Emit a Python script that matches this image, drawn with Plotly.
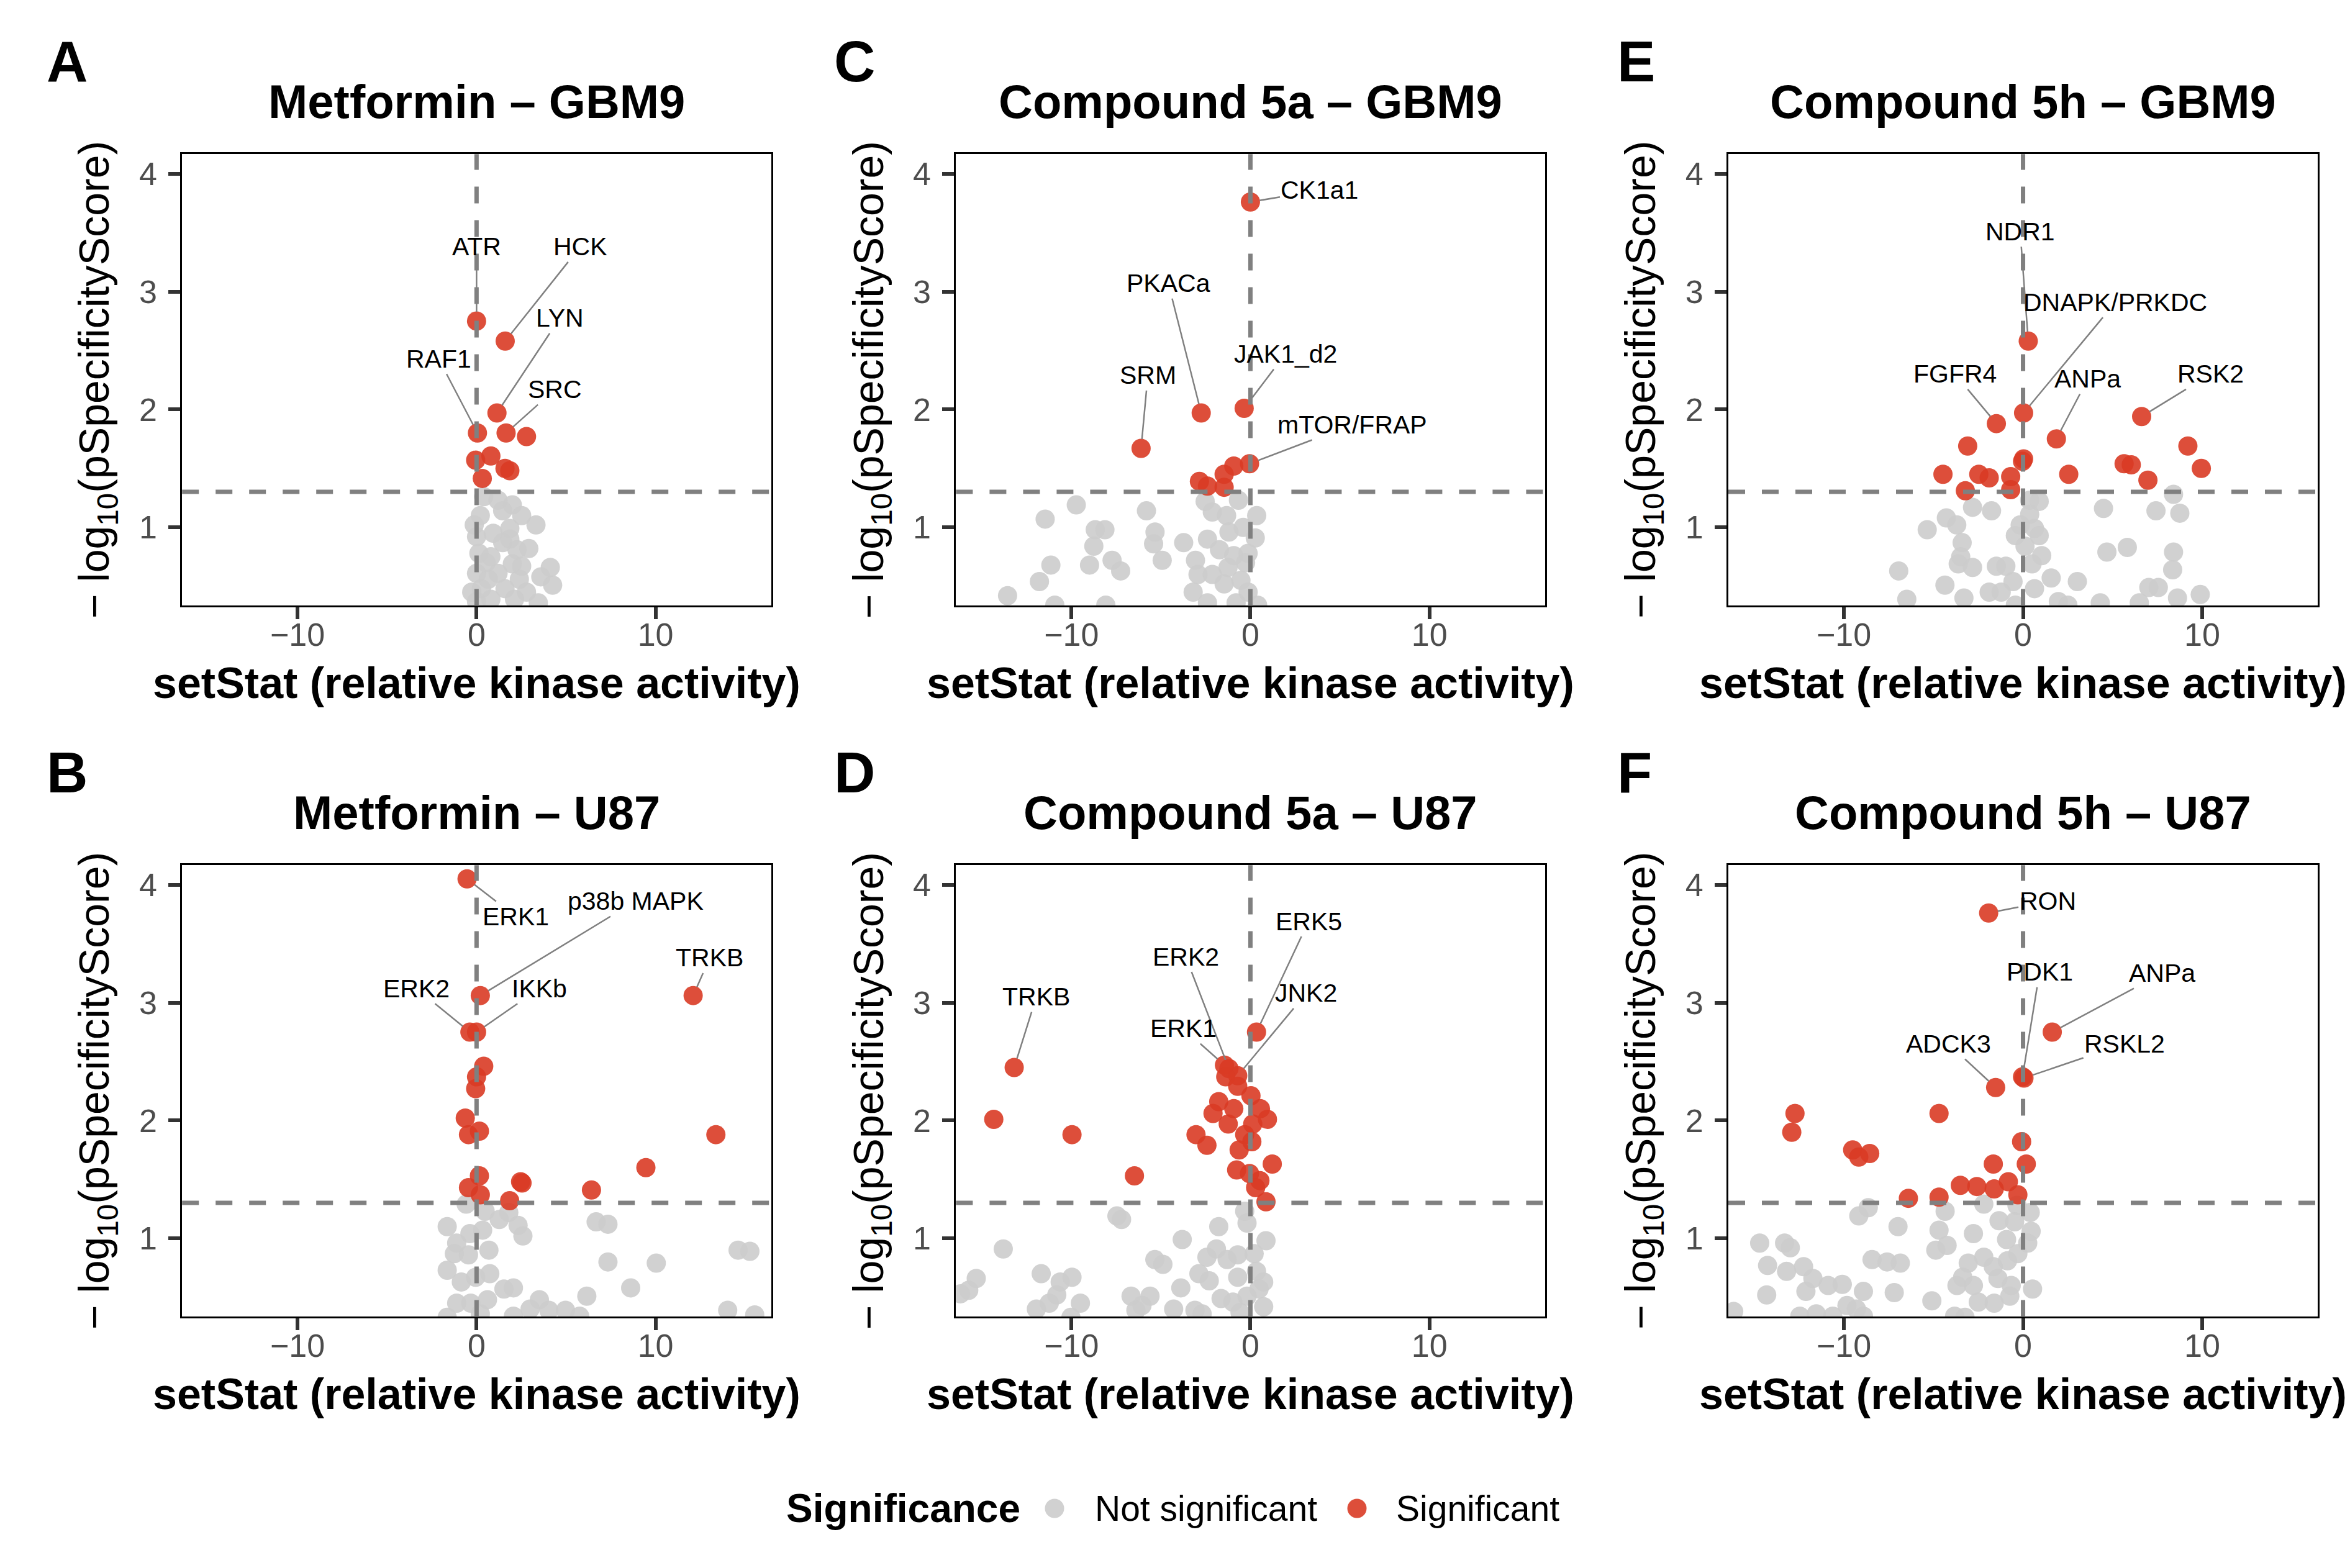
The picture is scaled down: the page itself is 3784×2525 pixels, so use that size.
import plotly.graph_objects as go

# ---- data (setStat, -log10 pSpecificityScore) ----
panel_titles = ["Metformin – GBM9", "Compound 5a – GBM9", "Compound 5h – GBM9",
                "Metformin – U87", "Compound 5a – U87", "Compound 5h – U87"]
panel_letters = ["A", "C", "E", "B", "D", "F"]

# A: Metformin - GBM9
a_kinases = ["ATR", "HCK", "LYN", "SRC", "RAF1"]
a_kin_x = [0.0, 1.6, 1.14, 1.65, 0.05]
a_kin_y = [2.75, 2.58, 1.97, 1.80, 1.80]
a_sig_x = [2.79, 0.8, -0.05, 1.59, 1.86, 0.32]
a_sig_y = [1.77, 1.605, 1.57, 1.50, 1.48, 1.415]
a_ns_x = [0.4, 1.2, 2.0, 1.46, 2.52, 0.21, 3.32, -0.13, 0.93, 1.86, 0.0, 1.46, 2.92, 2.26,
          0.13, 0.8, 2.0, 4.12, 2.52, 0.0, 1.2, 3.59, 4.25, 0.27, 1.59, 2.79, 0.0, 0.8,
          2.12, 3.45, -0.27, 0.66, 2.39, 1.86, 0.53]
a_ns_y = [1.26, 1.23, 1.19, 1.14, 1.10, 1.10, 1.02, 1.02, 0.95, 0.99, 0.92, 0.87, 0.82, 0.81,
          0.78, 0.75, 0.69, 0.66, 0.67, 0.61, 0.61, 0.58, 0.51, 0.48, 0.48, 0.45, 0.37, 0.39,
          0.39, 0.36, 0.45, 0.56, 0.56, 0.90, 0.70]

# C: Compound 5a - GBM9
c_kinases = ["CK1a1", "PKACa", "JAK1_d2", "SRM", "mTOR/FRAP"]
c_kin_x = [0.0, -2.75, -0.35, -6.11, -0.05]
c_kin_y = [3.76, 1.97, 2.01, 1.67, 1.54]
c_sig_x = [-0.93, -1.47, -2.85, -2.4, -1.47]
c_sig_y = [1.52, 1.45, 1.39, 1.35, 1.34]
c_ns_x = [-9.73, -11.47, -8.67, -8.13, -8.75, -5.81, -5.33, -5.41, -7.73, -7.25, -4.93, -11.15,
          -8.99, -11.79, -13.57, -10.93, -8.08, -3.73, -2.53, -2.13, -1.33, -0.67, 0.35, -2.4,
          -1.2, -0.4, 0.27, -3.07, -2.93, -3.2, -1.73, -0.93, -0.13, -2.13, -1.47, -0.53,
          -0.13, -2.4, -0.8, -0.27, 0.4, -1.25]
c_ns_y = [1.19, 1.07, 0.98, 0.98, 0.84, 1.14, 0.96, 0.86, 0.72, 0.63, 0.72, 0.68,
          0.68, 0.54, 0.42, 0.34, 0.34, 0.87, 1.22, 1.13, 1.10, 1.23, 1.10, 0.90,
          0.96, 1.00, 0.91, 0.72, 0.60, 0.45, 0.81, 0.76, 0.78, 0.60, 0.52, 0.55,
          0.45, 0.36, 0.36, 0.70, 0.34, 0.66]

# E: Compound 5h - GBM9
e_kinases = ["NDR1", "DNAPK/PRKDC", "FGFR4", "ANPa", "RSK2"]
e_kin_x = [0.29, 0.03, -1.49, 1.86, 6.62]
e_kin_y = [2.58, 1.97, 1.88, 1.75, 1.94]
e_sig_x = [-3.09, 0.03, -0.03, -4.47, -2.47, -1.89, -0.69, -3.22, -0.69, 2.55, 5.64, 6.04,
           6.97, 9.2, 9.95]
e_sig_y = [1.69, 1.58, 1.56, 1.45, 1.45, 1.42, 1.43, 1.31, 1.32, 1.45, 1.54, 1.53,
           1.40, 1.69, 1.50]
e_ns_x = [-2.82, -1.76, -4.28, -3.7, -5.35, -3.4, -3.48, -3.62, -2.82, -6.94, -4.36, -6.49,
          -3.3, -1.49, -0.96, -1.89, -1.22, -0.56, 0.37, 0.9, 0.37, -0.16, 0.64, 0.9, -0.43,
          0.11, 1.04, 0.5, 1.57, 0.64, 1.97, 3.03, 2.5, 4.49, 4.68, 5.82, 7.42, 8.4, 8.75,
          8.4, 8.35, 7.02, 7.55, 8.62, 9.89, 6.49, 4.31, -0.43]
e_ns_y = [1.17, 1.14, 1.08, 1.02, 0.98, 0.87, 0.75, 0.69, 0.66, 0.63, 0.51, 0.39,
          0.40, 0.67, 0.67, 0.45, 0.45, 0.54, 1.23, 1.22, 1.11, 1.02, 0.99, 0.93, 0.93,
          0.84, 0.76, 0.69, 0.57, 0.48, 0.37, 0.54, 0.34, 1.16, 0.79, 0.83, 1.14, 1.28, 1.12,
          0.79, 0.64, 0.49, 0.49, 0.40, 0.43, 0.36, 0.36, 0.34]

# B: Metformin - U87
b_kinases = ["ERK1", "p38b MAPK", "ERK2", "IKKb", "TRKB"]
b_kin_x = [-0.53, 0.21, -0.37, 0.0, 12.1]
b_kin_y = [4.05, 3.06, 2.75, 2.75, 3.06]
b_sig_x = [0.4, 0.0, -0.05, -0.63, -0.45, 0.16, 13.37, 9.46, 0.16, -0.45, 0.21, 2.46,
           2.54, 6.42, 1.85]
b_sig_y = [2.46, 2.37, 2.27, 2.02, 1.88, 1.91, 1.88, 1.60, 1.53, 1.43, 1.37, 1.48,
           1.47, 1.41, 1.32]
b_ns_x = [-0.58, 0.48, 1.27, 1.8, 2.32, 2.59, -1.64, -0.37, 0.34, -1.11, -1.24, 0.69, -0.45,
          -1.64, 0.74, -0.85, -0.05, 1.53, 2.06, -1.11, -0.32, 0.61, 0.21, 3.51, 2.99, 4.04,
          4.97, 2.06, -1.64, 6.68, 7.34, 7.34, 10.04, 8.61, 6.16, 14.61, 15.27, 14.03, 15.54,
          5.76]
b_ns_y = [1.29, 1.23, 1.16, 1.22, 1.11, 1.02, 1.10, 1.04, 1.07, 0.96, 0.87, 0.90, 0.86,
          0.73, 0.70, 0.63, 0.67, 0.57, 0.58, 0.45, 0.45, 0.48, 0.36, 0.48, 0.40, 0.39,
          0.39, 0.34, 0.33, 1.14, 1.12, 0.80, 0.79, 0.58, 0.51, 0.90, 0.89, 0.39, 0.35,
          0.34]

# D: Compound 5a - U87
d_kinases = ["TRKB", "ERK2", "ERK5", "JNK2", "ERK1"]
d_kin_x = [-13.2, -1.2, 0.34, -0.71, -1.45]
d_kin_y = [2.45, 2.44, 2.75, 2.38, 2.47]
d_sig_x = [-14.34, -9.97, -6.48, -3.04, -2.43, -1.77, -2.09, -0.93, -1.24, -1.38, -0.71,
           0.03, 0.56, 0.95, 0.13, -0.32, 0.08, -0.63, -0.77, -0.05, 0.53, 0.29, 1.22, 0.87]
d_sig_y = [2.01, 1.88, 1.53, 1.88, 1.79, 2.16, 2.06, 2.10, 1.97, 2.37, 2.29,
           2.21, 2.10, 2.01, 1.97, 1.88, 1.82, 1.75, 1.58, 1.55, 1.49, 1.43, 1.63, 1.31]
d_ns_x = [-7.46, -7.2, -1.77, -0.32, -0.19, -3.81, 0.87, -13.81, -5.34, -4.89, -1.9, -2.43,
          -1.3, -0.71, 0.21, -15.32, -15.74, -16.2, -11.69, -9.97, -10.63, -10.82, -9.5,
          -11.24, -11.96, -10.03, -6.67, -5.61, -6.06, -6.4, -3.89, -4.29, -2.88, -2.3, -1.64,
          -0.71, 0.34, 0.74, 0.48, -0.98, -0.19, 0.74, -2.7, -3.1, -0.58]
d_ns_y = [1.19, 1.16, 1.10, 1.23, 1.13, 0.99, 0.98, 0.91, 0.82, 0.78, 0.91, 0.84,
          0.82, 0.86, 0.87, 0.66, 0.56, 0.53, 0.70, 0.67, 0.63, 0.52, 0.45,
          0.45, 0.40, 0.33, 0.51, 0.51, 0.43, 0.39, 0.58, 0.40, 0.70, 0.64, 0.49,
          0.67, 0.72, 0.63, 0.57, 0.46, 0.51, 0.42, 0.36, 0.39, 0.37]

# F: Compound 5h - U87
f_kinases = ["RON", "PDK1", "ANPa", "RSKL2", "ADCK3"]
f_kin_x = [-1.92, -0.03, 1.63, 0.05, -1.53]
f_kin_y = [3.76, 2.37, 2.75, 2.36, 2.28]
f_sig_x = [-12.73, -12.91, -4.69, -9.51, -9.17, -8.56, -0.08, 0.18, -1.66, -3.5, -2.58,
           -1.61, -0.82, -0.29, -6.4, -4.69]
f_sig_y = [2.06, 1.90, 2.06, 1.75, 1.69, 1.72, 1.82, 1.63, 1.63, 1.45, 1.44,
           1.42, 1.48, 1.37, 1.34, 1.35]
f_ns_x = [-8.64, -9.17, -6.98, -4.35, -2.19, -0.34, 0.4, -1.34, -0.47, -4.69, -2.77, 0.45,
          -0.92, 0.26, -14.7, -13.31, -12.99, -4.87, -4.24, -14.26, -13.2, -12.25, -11.73,
          -8.43, -7.59, -6.85, -3.06, -2.19, -1.66, -0.87, -0.29, -10.88, -10.09, -12.12,
          -14.31, -8.91, -7.19, -3.69, -2.77, -3.37, -1.4, -0.66, 0.53, -9.83, -9.3, -5.09,
          -2.5, -1.61, -0.74, -16.15, -12.46, -11.54, -10.62, -8.91, -3.82, -3.24]
f_ns_y = [1.26, 1.19, 1.10, 1.23, 1.29, 1.28, 1.22, 1.15, 1.14, 1.07, 1.04, 1.06,
          0.99, 0.96, 0.96, 0.96, 0.92, 0.90, 0.94, 0.77, 0.72, 0.76, 0.66,
          0.82, 0.80, 0.79, 0.79, 0.84, 0.76, 0.81, 0.87, 0.60, 0.61, 0.55,
          0.52, 0.55, 0.54, 0.60, 0.60, 0.67, 0.66, 0.60, 0.57, 0.43, 0.40, 0.47,
          0.46, 0.45, 0.51, 0.38, 0.34, 0.36, 0.34, 0.34, 0.34, 0.33]

# where each kinase label sits (data units), in panel order A C E B D F
label_xy = [
    [(0.0, 3.38), (5.79, 3.38), (4.65, 2.775), (4.38, 2.17), (-2.12, 2.43)],
    [(3.87, 3.86), (-4.59, 3.07), (1.95, 2.47), (-5.73, 2.29), (5.68, 1.87)],
    [(-0.16, 3.51), (5.16, 2.91), (-3.8, 2.30), (3.62, 2.26), (10.48, 2.30)],
    [(2.19, 3.73), (8.88, 3.86), (-3.36, 3.12), (3.51, 3.12), (13.03, 3.38)],
    [(-11.96, 3.05), (-3.62, 3.39), (3.25, 3.69), (3.12, 3.08), (-3.76, 2.78)],
    [(1.37, 3.86), (0.92, 3.26), (7.77, 3.25), (5.67, 2.65), (-4.16, 2.65)],
]

panels = [
    (a_kinases, a_kin_x, a_kin_y, a_sig_x, a_sig_y, a_ns_x, a_ns_y),
    (c_kinases, c_kin_x, c_kin_y, c_sig_x, c_sig_y, c_ns_x, c_ns_y),
    (e_kinases, e_kin_x, e_kin_y, e_sig_x, e_sig_y, e_ns_x, e_ns_y),
    (b_kinases, b_kin_x, b_kin_y, b_sig_x, b_sig_y, b_ns_x, b_ns_y),
    (d_kinases, d_kin_x, d_kin_y, d_sig_x, d_sig_y, d_ns_x, d_ns_y),
    (f_kinases, f_kin_x, f_kin_y, f_sig_x, f_sig_y, f_ns_x, f_ns_y),
]

# ---- layout geometry (pixels of the 3784x2525 page) ----
W, H = 3784, 2525
col_left = [285.2, 1531.4, 2775.0]
col_right = [1233.5, 2479.5, 3724.1]
row_top = [240.2, 1385.2]
row_bot = [967.4, 2112.4]
letter_left = [65, 1333, 2594]

RED = "#D93B25"
GREY = "#CCCCCC"
FONT = "Liberation Sans"


def px(xp):
    return xp / W


def py(yp):
    return 1 - yp / H


fig = go.Figure()
annotations = []
shapes = []

for i, (kin, kx, ky, sx, sy, nx, ny) in enumerate(panels):
    r, c = divmod(i, 3)
    suf = "" if i == 0 else str(i + 1)
    xa, ya = "x" + suf, "y" + suf

    fig.add_trace(go.Scatter(x=nx, y=ny, mode="markers", xaxis=xa, yaxis=ya,
                             marker=dict(color=GREY, size=31, opacity=0.9, line=dict(width=0)),
                             name="Not significant", showlegend=False, cliponaxis=True))
    fig.add_trace(go.Scatter(x=kx + sx, y=ky + sy, mode="markers", xaxis=xa, yaxis=ya,
                             marker=dict(color=RED, size=31, opacity=0.9, line=dict(width=0)),
                             name="Significant", showlegend=False, cliponaxis=True))

    axis_common = dict(showline=True, mirror=True, linecolor="black", linewidth=3,
                       ticks="outside", ticklen=19, tickwidth=6, tickcolor="#333333",
                       showgrid=False, zeroline=False,
                       tickfont=dict(family=FONT, size=52, color="#4D4D4D"))
    fig.update_layout({
        "xaxis" + suf: dict(domain=[px(col_left[c]), px(col_right[c])], anchor=ya,
                            range=[-16.45, 16.45], tickvals=[-10, 0, 10],
                            ticklabelstandoff=-20, **axis_common),
        "yaxis" + suf: dict(domain=[py(row_bot[r]), py(row_top[r])], anchor=xa,
                            range=[0.335, 4.166], tickvals=[1, 2, 3, 4],
                            ticklabelstandoff=8, **axis_common),
    })

    # reference lines: p = 0.05 and setStat = 0
    dash = dict(color="#808080", width=7, dash="27px,27px")
    shapes.append(dict(type="line", xref=xa, yref=ya + " domain", x0=0, x1=0, y0=0, y1=1,
                       line=dash, layer="above"))
    shapes.append(dict(type="line", xref=xa + " domain", yref=ya, x0=0, x1=1,
                       y0=1.30103, y1=1.30103, line=dash, layer="above"))

    # kinase labels with leader lines
    for name, x0, y0, (tx, ty) in zip(kin, kx, ky, label_xy[i]):
        annotations.append(dict(x=x0, y=y0, xref=xa, yref=ya, ax=tx, ay=ty, axref=xa, ayref=ya,
                                text=name, showarrow=True, arrowhead=0, arrowwidth=2.5,
                                arrowcolor="#808080", standoff=15,
                                font=dict(family=FONT, size=41, color="black")))

    cx = px((col_left[c] + col_right[c]) / 2)
    cy = py((row_top[r] + row_bot[r]) / 2)
    # panel title
    annotations.append(dict(x=cx, y=py(row_top[r] - 85), xref="paper", yref="paper",
                            text="<b>" + panel_titles[i] + "</b>", showarrow=False,
                            xanchor="center", yanchor="middle",
                            font=dict(family=FONT, size=76, color="black")))
    # panel letter
    annotations.append(dict(x=px(letter_left[c]), y=py(row_top[r] - 149), xref="paper",
                            yref="paper", text="<b>" + panel_letters[i] + "</b>",
                            showarrow=False, xanchor="left", yanchor="middle",
                            font=dict(family=FONT, size=92, color="black")))
    # axis titles
    annotations.append(dict(x=cx, y=py(row_bot[r] + 125), xref="paper", yref="paper",
                            text="<b>setStat (relative kinase activity)</b>", showarrow=False,
                            xanchor="center", yanchor="middle",
                            font=dict(family=FONT, size=70, color="black")))
    annotations.append(dict(x=px(col_left[c] - 137), y=cy, xref="paper", yref="paper",
                            text="− log<sub>10</sub>(pSpecificityScore)", showarrow=False,
                            textangle=-90, xanchor="center", yanchor="middle",
                            font=dict(family=FONT, size=68, color="black")))

# ---- legend, drawn by hand so the keys keep the point size ----
leg_y = py(2421)
annotations.append(dict(x=px(1256), y=leg_y, xref="paper", yref="paper",
                        text="<b>Significance</b>", showarrow=False, xanchor="left",
                        yanchor="middle", font=dict(family=FONT, size=64, color="black")))
for label, col, dot_x, text_x in [("Not significant", GREY, 1690, 1753),
                                   ("Significant", RED, 2177, 2238)]:
    shapes.append(dict(type="circle", xref="paper", yref="paper", xsizemode="pixel",
                       ysizemode="pixel", xanchor=px(dot_x), yanchor=leg_y,
                       x0=-15.5, x1=15.5, y0=-15.5, y1=15.5, fillcolor=col, opacity=0.9,
                       line=dict(width=0)))
    annotations.append(dict(x=px(text_x), y=leg_y, xref="paper", yref="paper", text=label,
                            showarrow=False, xanchor="left", yanchor="middle",
                            font=dict(family=FONT, size=57, color="black")))

fig.update_layout(width=W, height=H, margin=dict(l=0, r=0, t=0, b=0),
                  paper_bgcolor="white", plot_bgcolor="white", showlegend=False,
                  annotations=annotations, shapes=shapes,
                  font=dict(family=FONT))

fig.write_html("out.html")
